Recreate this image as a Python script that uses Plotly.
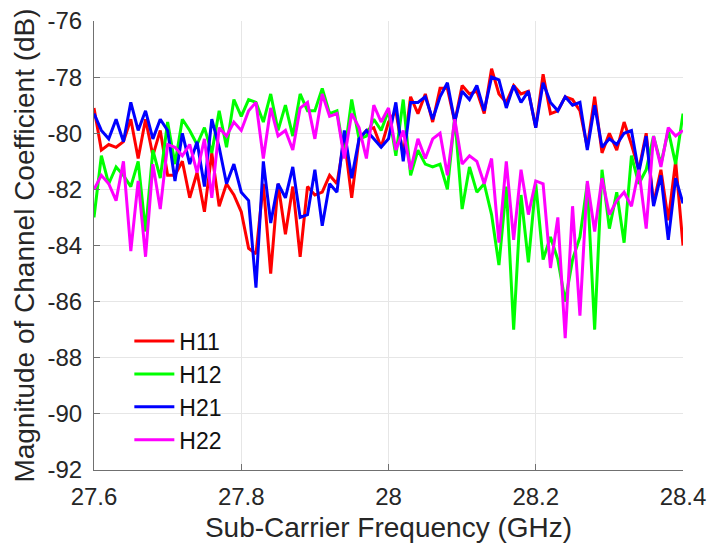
import plotly.graph_objects as go

freq_start = 27.6
freq_step = 0.01
n_points = 81
freq = [round(freq_start + freq_step * i, 2) for i in range(n_points)]

h11 = [-79.1, -80.6, -80.4, -80.5, -80.3, -79.5, -80.9, -79.5, -80.8, -79.9,
       -81.5, -81.5, -81.0, -82.3, -81.4, -82.8, -80.7, -82.6, -81.8, -82.2,
       -82.8, -84.1, -84.3, -81.8, -85.0, -81.8, -83.6, -81.9, -84.4, -81.9,
       -82.2, -82.1, -81.5, -81.8, -80.2, -82.3, -80.2, -79.9, -79.8, -80.5,
       -79.6, -79.2, -80.8, -78.7, -79.3, -78.6, -79.6, -78.4, -78.4, -79.6,
       -78.3, -78.6, -78.5, -79.3, -77.7, -78.6, -78.9, -78.3, -78.6, -78.5,
       -79.8, -77.9, -79.3, -79.2, -78.7, -78.8, -79.2, -80.5, -78.7, -80.7,
       -80.0, -80.6, -79.6, -80.4, -81.3, -80.0, -82.5, -81.3, -83.1, -81.0,
       -84.0]

h12 = [-83.0, -80.8, -81.8, -81.2, -81.5, -81.9, -81.0, -83.5, -80.6, -81.6,
       -79.6, -81.1, -79.5, -79.9, -80.4, -79.8, -80.7, -79.2, -80.5, -78.8,
       -79.4, -78.8, -78.9, -79.6, -78.6, -79.9, -79.0, -80.1, -78.6, -79.2,
       -79.2, -78.4, -79.3, -79.2, -80.8, -78.8, -80.2, -80.1, -79.5, -79.9,
       -79.2, -80.8, -78.8, -81.5, -80.6, -81.1, -81.2, -81.1, -82.0, -79.4,
       -82.7, -81.2, -82.1, -81.8, -82.9, -84.7, -81.9, -87.0, -82.2, -84.6,
       -81.8, -84.5, -83.7, -84.5, -86.0, -84.5, -83.7, -81.8, -87.0, -81.3,
       -83.4, -82.1, -83.9, -80.8, -81.8, -81.3, -80.1, -81.1, -79.9, -81.1,
       -79.3]

h21 = [-79.3, -79.9, -80.2, -79.5, -80.3, -78.9, -79.9, -79.2, -80.2, -79.5,
       -79.9, -81.7, -80.0, -81.1, -80.3, -81.9, -79.5, -80.5, -81.8, -81.1,
       -82.1, -82.4, -85.5, -81.0, -83.2, -81.8, -82.3, -81.2, -83.0, -82.9,
       -81.3, -83.3, -81.8, -82.1, -79.9, -81.6, -80.2, -79.9, -80.2, -80.5,
       -80.2, -78.9, -81.0, -78.9, -78.9, -78.7, -79.5, -78.7, -78.2, -79.6,
       -78.5, -78.8, -78.3, -79.2, -78.0, -78.1, -79.1, -78.3, -78.9, -78.5,
       -79.8, -78.2, -78.9, -79.2, -78.7, -79.0, -78.9, -80.6, -79.0, -80.5,
       -80.2, -80.4, -80.0, -79.9, -81.4, -80.1, -82.6, -81.5, -83.8, -81.6,
       -82.5]

h22 = [-82.0, -81.5, -81.8, -82.4, -81.0, -84.2, -81.7, -84.4, -81.1, -82.7,
       -80.4, -80.5, -80.8, -80.4, -81.4, -80.2, -82.3, -79.8, -80.1, -79.6,
       -79.9, -79.2, -78.9, -80.9, -79.1, -80.1, -79.9, -80.6, -79.1, -78.9,
       -80.2, -78.6, -79.4, -79.3, -80.9, -79.3, -79.8, -80.9, -79.0, -79.6,
       -79.1, -80.6, -79.9, -81.3, -80.2, -80.9, -80.2, -80.0, -81.5, -79.5,
       -81.1, -80.8, -81.0, -81.8, -80.9, -83.9, -81.0, -83.8, -81.3, -82.9,
       -81.7, -81.8, -84.8, -83.0, -87.3, -82.6, -86.5, -81.7, -83.5, -81.6,
       -82.9, -82.4, -82.1, -82.6, -81.3, -83.4, -80.1, -81.2, -79.8, -80.1,
       -79.9]

series_names = ["H11", "H12", "H21", "H22"]
series_values = [h11, h12, h21, h22]
series_colors = ["#ff0000", "#00ff00", "#0000ff", "#ff00ff"]

x_ticks = [27.6, 27.8, 28.0, 28.2, 28.4]
x_tick_labels = ["27.6", "27.8", "28", "28.2", "28.4"]
y_ticks = list(range(-92, -75, 2))
y_tick_labels = [str(v) for v in y_ticks]

font_family = "Liberation Sans, Arial, sans-serif"
text_color = "#262626"

fig = go.Figure()
for k, (name, vals, col) in enumerate(zip(series_names, series_values, series_colors)):
    fig.add_trace(go.Scatter(
        x=freq, y=vals, mode="lines", name=name,
        line=dict(color=col, width=3),
        legendgroup=f"g{k}",
    ))

fig.update_layout(
    width=710, height=548,
    margin=dict(l=94, r=27, t=21, b=78, autoexpand=False),
    paper_bgcolor="white", plot_bgcolor="white",
    font=dict(family=font_family, size=20, color=text_color),
    showlegend=True,
    legend=dict(
        x=0.06, y=0.335, xanchor="left", yanchor="top",
        bgcolor="rgba(255,255,255,0)",
        font=dict(size=23, color="#111111"),
        tracegroupgap=0,
        itemwidth=40,
    ),
    xaxis=dict(
        range=[27.6, 28.4],
        tickvals=x_ticks, ticktext=x_tick_labels,
        showgrid=True, gridcolor="#e6e6e6", gridwidth=1,
        showline=True, linecolor="#707070", linewidth=1,
        ticks="inside", ticklen=6, tickcolor="#707070",
        ticklabelstandoff=5,
        ticklabeloverflow="allow",
        automargin=False,
        tickfont=dict(size=24, color=text_color),
        title=dict(text="Sub-Carrier Frequency (GHz)", font=dict(size=28, color=text_color), standoff=8),
        zeroline=False, mirror=False,
    ),
    yaxis=dict(
        range=[-92, -76],
        tickvals=y_ticks, ticktext=y_tick_labels,
        showgrid=True, gridcolor="#e6e6e6", gridwidth=1,
        showline=True, linecolor="#707070", linewidth=1,
        ticks="inside", ticklen=6, tickcolor="#707070",
        ticklabelstandoff=6,
        ticklabeloverflow="allow",
        automargin=False,
        tickfont=dict(size=24, color=text_color),
        title=dict(text="Magnitude of Channel Coefficient (dB)", font=dict(size=28, color=text_color), standoff=4),
        zeroline=False, mirror=False,
    ),
)

# remove the default page margin so the 710x548 figure fills the window exactly
fig.write_html(
    "out.html",
    config={"displayModeBar": False},
    post_script="document.body.style.margin='0';document.body.style.overflow='hidden';",
)
